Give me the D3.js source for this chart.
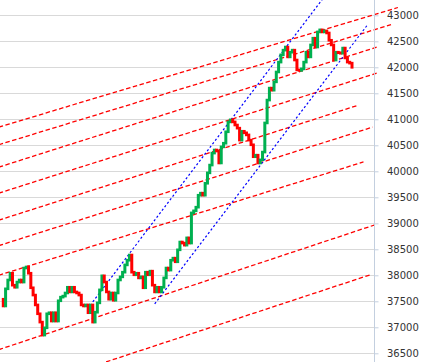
<!DOCTYPE html>
<html><head><meta charset="utf-8">
<script src="https://cdn.jsdelivr.net/npm/d3@7"></script>
<style>html,body{margin:0;padding:0;background:#fff;overflow:hidden}</style>
</head><body><svg id="c" width="434" height="362"></svg>
<script>
// closing prices, one per bar (oldest first)
const prices = [
37540,37410,37740,37910,38040,37810,37770,37870,37910,37870,
38140,38160,38040,37760,37620,37430,37260,37100,36850,36990,
37260,37280,37120,37280,37120,37510,37580,37600,37660,37770,
37680,37770,37680,37660,37620,37430,37410,37430,37280,37430,
37100,37290,37470,37720,37990,37870,37680,37540,37660,37520,
37660,37910,37970,38060,38200,38290,38390,38060,38010,38040,
37950,37970,37760,38060,38010,38080,37810,37680,37770,37680,
37770,37950,38140,38100,38290,38330,38260,38490,38640,38620,
38580,38720,38620,39200,39240,39310,39540,39580,39540,39770,
39970,40120,40350,40410,40390,40160,40470,40540,40760,40950,
40990,40950,40890,40830,40600,40770,40740,40700,40600,40510,
40280,40310,40160,40220,40370,40930,41370,41600,41560,41720,
41910,42100,42240,42330,42390,42200,42290,42330,42140,41950,
41940,41970,42100,42290,42200,42430,42560,42390,42680,42720,
42680,42700,42660,42520,42430,42140,42290,42280,42270,42370,
42180,42100,42080,42000
];
// value-axis tick labels
const yTicks = [36500,37000,37500,38000,38500,39000,39500,40000,40500,41000,41500,42000,42500,43000];
// red parallel trend lines: [startBar, startValue, endBar, endValue]
const redStartBar = [-1,-1,-1,-1,-1,-1,-1,-1,40];
const redStartVal = [40850,40510,40080,39580,39060,38570,38000,36570,36250];
const redEndBar   = [173,170,164,164,155,162,158,163,161];
const redEndVal   = [43150,42820,42390,41890,41260,40850,40180,38970,38010];
// blue channel lines
const blueStartBar = [40,67];
const blueStartVal = [37490,37450];
const blueEndBar   = [141,160];
const blueEndVal   = [43360,42830];

const W = 434, H = 362;
const svg = d3.select('#c');
svg.append('rect').attr('width',W).attr('height',H).attr('fill','#fff');

const x = d3.scaleLinear().domain([0, prices.length-1]).range([1, 352]);
const y = d3.scaleLinear().domain([36500, 43000]).range([353.3, 15.3]);
const axisX = 374.5;

// gridlines
svg.append('g').selectAll('line').data(yTicks).join('line')
  .attr('x1',0).attr('x2',axisX)
  .attr('y1',d=>Math.floor(y(d))+0.5).attr('y2',d=>Math.floor(y(d))+0.5)
  .attr('stroke','#d9d9d9').attr('stroke-width',1);

// red dashed lines
const redIdx = d3.range(redStartBar.length);
svg.append('g').selectAll('line').data(redIdx).join('line')
  .attr('x1',i=>x(redStartBar[i])).attr('y1',i=>y(redStartVal[i]))
  .attr('x2',i=>x(redEndBar[i])).attr('y2',i=>y(redEndVal[i]))
  .attr('stroke','#ff0000').attr('stroke-width',1.3)
  .attr('stroke-dasharray','4.5 2.5');

// blue dashed lines
const blueIdx = d3.range(blueStartBar.length);
svg.append('g').selectAll('line').data(blueIdx).join('line')
  .attr('x1',i=>x(blueStartBar[i])).attr('y1',i=>y(blueStartVal[i]))
  .attr('x2',i=>x(blueEndBar[i])).attr('y2',i=>y(blueEndVal[i]))
  .attr('stroke','#0000ff').attr('stroke-width',1.2)
  .attr('stroke-dasharray','2.2 2.2');

// price up/down bars
const bw = 3;
const bars = d3.range(1, prices.length);
svg.append('g').selectAll('rect').data(bars).join('rect')
  .attr('x', i => x(i) - bw/2)
  .attr('width', bw)
  .attr('y', i => Math.min(y(prices[i-1]), y(prices[i])) - 1.3)
  .attr('height', i => Math.abs(y(prices[i-1]) - y(prices[i])) + 2.6)
  .attr('fill', i => prices[i] >= prices[i-1] ? '#00b050' : '#ff0000');

// axis
const axis = d3.axisRight(y).tickValues(yTicks).tickSize(4).tickPadding(8.5).tickFormat(d3.format('d'));
const ga = svg.append('g').attr('transform',`translate(${axisX},0)`).call(axis);
ga.select('.domain').remove();
ga.selectAll('.tick line').attr('stroke','#c3cfdf');
ga.selectAll('.tick text').attr('fill','#333').attr('font-family','"DejaVu Sans", sans-serif').attr('font-size','10px');
svg.append('line').attr('x1',axisX).attr('x2',axisX).attr('y1',0).attr('y2',H)
  .attr('stroke','#c3cfdf').attr('stroke-width',1);
</script></body></html>
